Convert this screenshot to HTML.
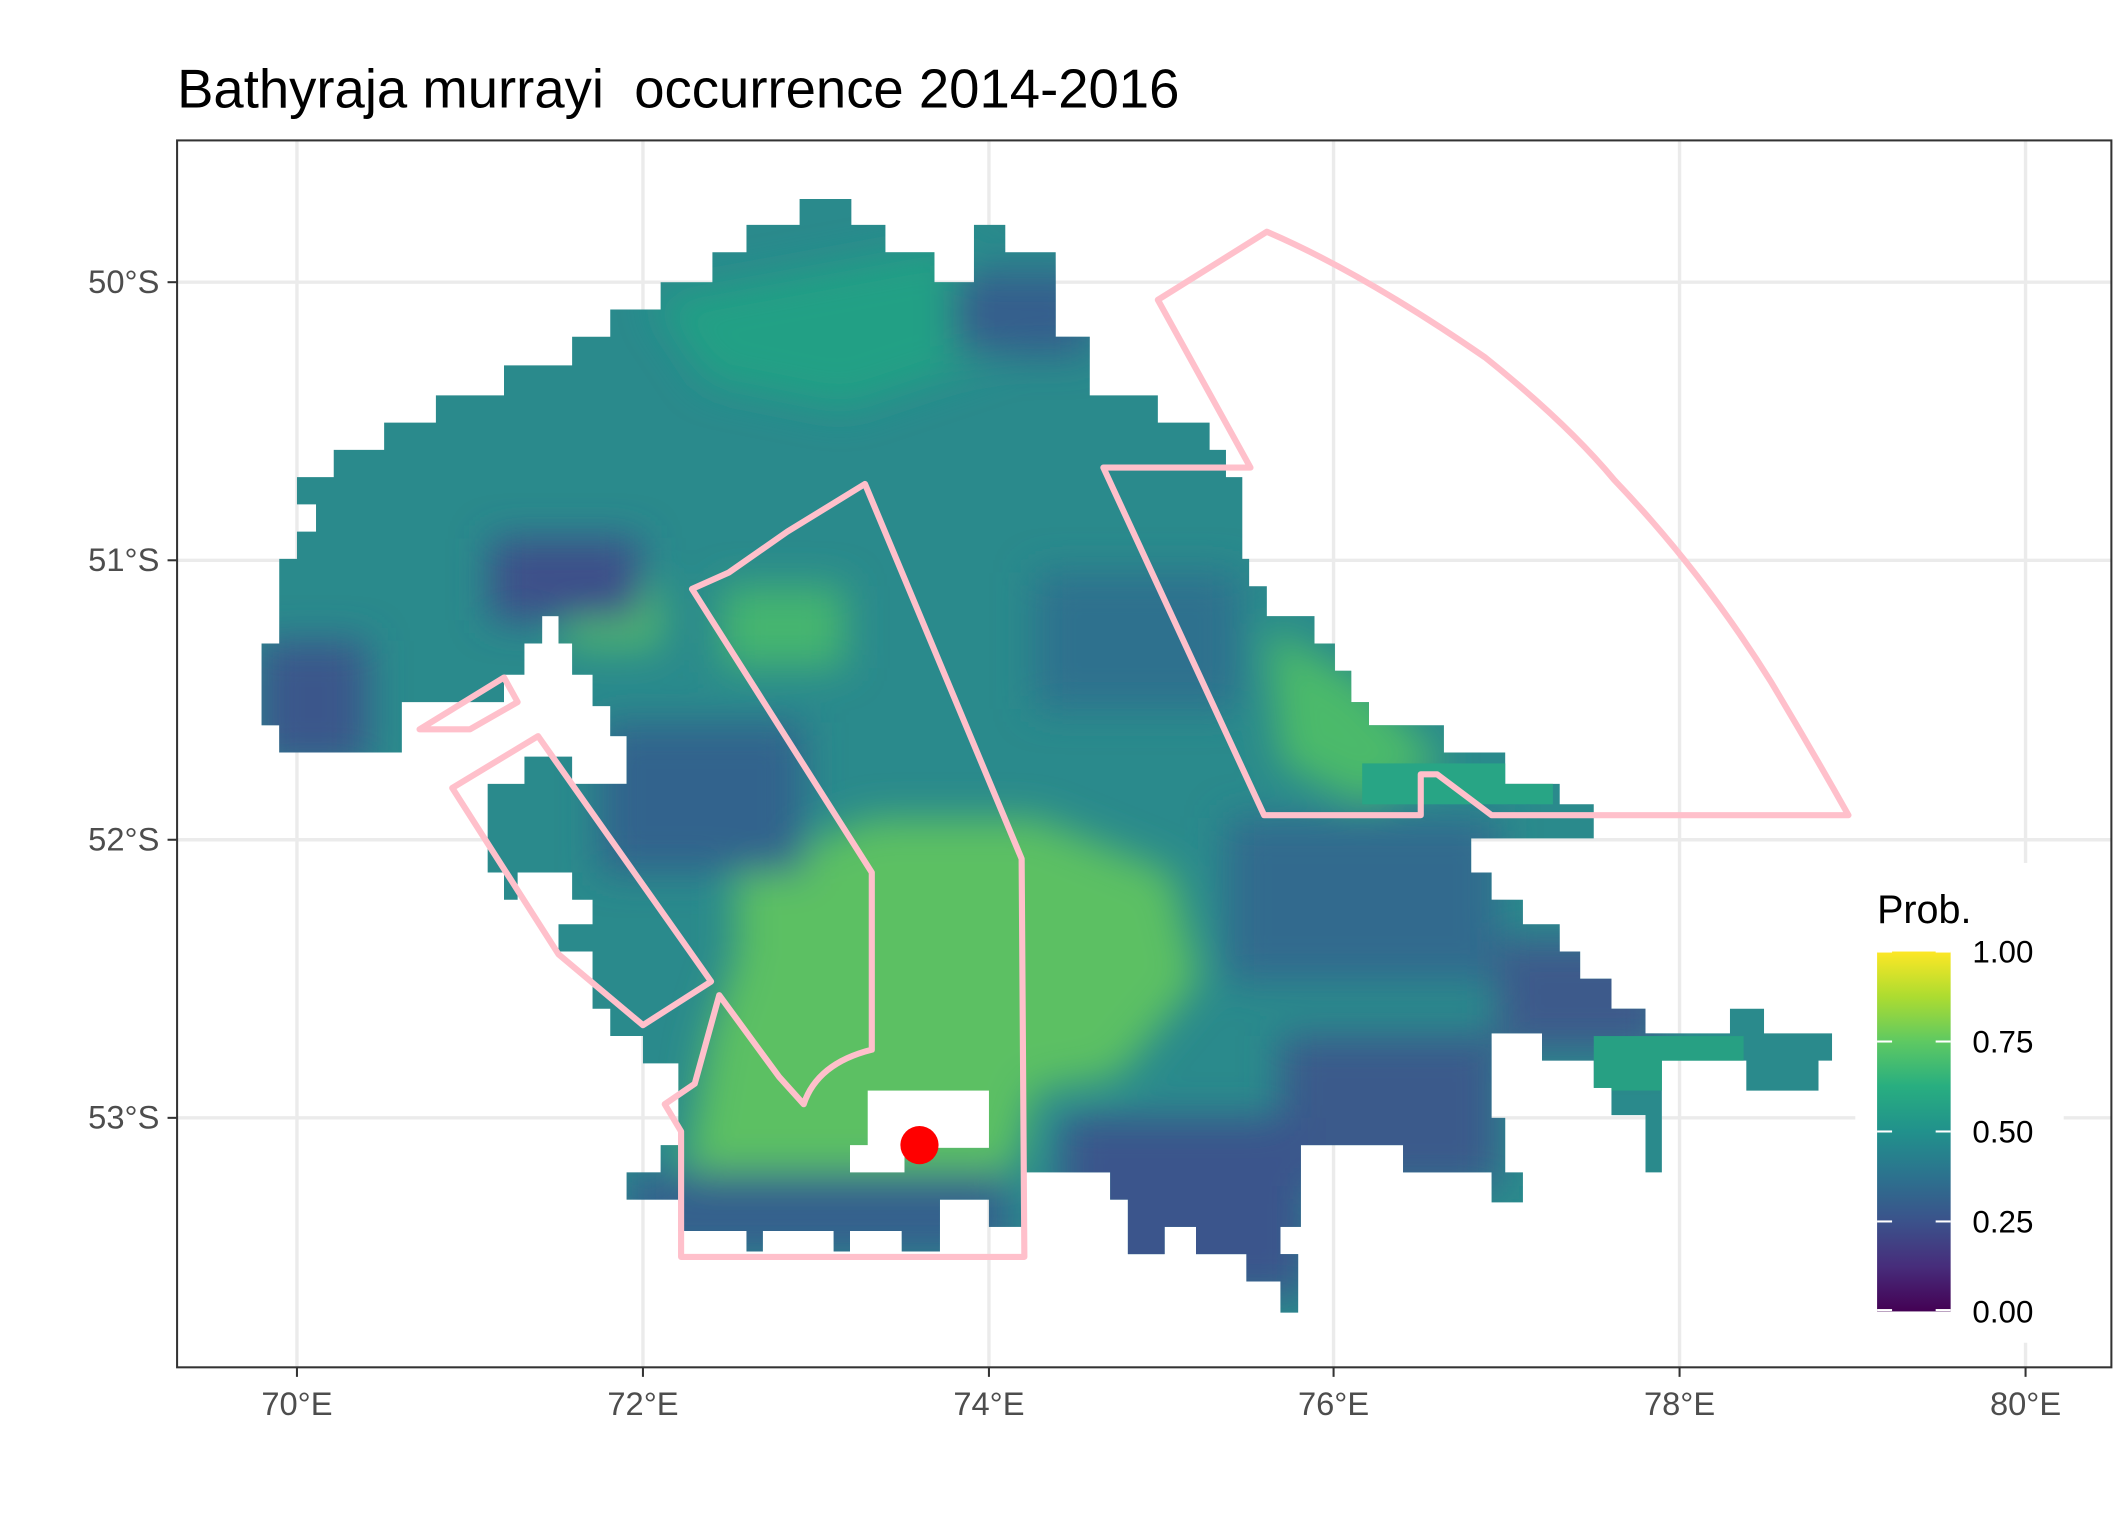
<!DOCTYPE html>
<html><head><meta charset="utf-8"><style>html,body{margin:0;padding:0;background:#fff}svg{display:block}</style></head>
<body>
<svg width="2125" height="1535" viewBox="0 0 1560 1126" preserveAspectRatio="none" xmlns="http://www.w3.org/2000/svg" font-family="Liberation Sans, sans-serif">
<defs>
<linearGradient id="vir" x1="0" y1="1" x2="0" y2="0">
<stop offset="0" stop-color="#440154"/><stop offset="0.125" stop-color="#472d7b"/><stop offset="0.25" stop-color="#3b528b"/><stop offset="0.375" stop-color="#2c728e"/><stop offset="0.5" stop-color="#21918c"/><stop offset="0.625" stop-color="#28ae80"/><stop offset="0.75" stop-color="#5ec962"/><stop offset="0.875" stop-color="#addc30"/><stop offset="1" stop-color="#fde725"/>
</linearGradient>
<clipPath id="land"><path id="shape" d="M548,165 L587,165 L587,146 L625,146 L625,165 L650,165 L650,185 L686,185 L686,207 L715,207 L715,165 L738,165 L738,185 L775,185 L775,247 L800,247 L800,290 L850,290 L850,310 L888,310 L888,330 L900,330 L900,350 L912,350 L912,410 L917,410 L917,430 L930,430 L930,452 L965,452 L965,472 L980,472 L980,492 L992,492 L992,515 L1005,515 L1005,532 L1060,532 L1060,552 L1105,552 L1105,575 L1145,575 L1145,590 L1170,590 L1170,615 L1080,615 L1080,640 L1095,640 L1095,660 L1118,660 L1118,678 L1145,678 L1145,698 L1160,698 L1160,718 L1183,718 L1183,740 L1208,740 L1208,758 L1270,758 L1270,740 L1295,740 L1295,758 L1345,758 L1345,778 L1335,778 L1335,800 L1282,800 L1282,778 L1220,778 L1220,860 L1208,860 L1208,818 L1183,818 L1183,798 L1170,798 L1170,778 L1132,778 L1132,758 L1095,758 L1095,820 L1105,820 L1105,860 L1118,860 L1118,882 L1095,882 L1095,860 L1030,860 L1030,840 L955,840 L955,900 L940,900 L940,920 L953,920 L953,963 L940,963 L940,940 L915,940 L915,920 L878,920 L878,900 L855,900 L855,920 L828,920 L828,880 L815,880 L815,860 L750,860 L750,900 L726,900 L726,880 L690,880 L690,918 L662,918 L662,903 L624,903 L624,918 L612,918 L612,903 L560,903 L560,918 L548,918 L548,903 L498,903 L498,880 L460,880 L460,860 L485,860 L485,840 L498,840 L498,780 L472,780 L472,760 L448,760 L448,740 L435,740 L435,698 L410,698 L410,678 L435,678 L435,660 L420,660 L420,640 L380,640 L380,660 L370,660 L370,640 L358,640 L358,575 L385,575 L385,555 L420,555 L420,575 L460,575 L460,540 L448,540 L448,518 L435,518 L435,495 L420,495 L420,472 L410,472 L410,452 L398,452 L398,472 L385,472 L385,495 L370,495 L370,515 L295,515 L295,552 L205,552 L205,532 L192,532 L192,472 L205,472 L205,410 L218,410 L218,390 L232,390 L232,370 L218,370 L218,350 L245,350 L245,330 L282,330 L282,310 L320,310 L320,290 L370,290 L370,268 L420,268 L420,247 L448,247 L448,227 L485,227 L485,207 L523,207 L523,185 L548,185 Z"/></clipPath>
<filter id="bl"><feGaussianBlur stdDeviation="14"/></filter>
</defs>
<rect width="1560" height="1126" fill="#fff"/>
<g stroke="#ebebeb" stroke-width="2.5">
<line x1="218" y1="103" x2="218" y2="1003"/><line x1="472" y1="103" x2="472" y2="1003"/><line x1="726" y1="103" x2="726" y2="1003"/><line x1="979" y1="103" x2="979" y2="1003"/><line x1="1233" y1="103" x2="1233" y2="1003"/><line x1="1487" y1="103" x2="1487" y2="1003"/>
<line x1="130" y1="207" x2="1550" y2="207"/><line x1="130" y1="411" x2="1550" y2="411"/><line x1="130" y1="616" x2="1550" y2="616"/><line x1="130" y1="820" x2="1550" y2="820"/>
</g>
<g clip-path="url(#land)">
<rect x="180" y="140" width="1180" height="830" fill="#2a8a8c"/>
<g filter="url(#bl)">
<path d="M480,220 L700,180 L740,260 L620,300 L520,280 Z" fill="#23a085"/>
<path d="M540,640 L640,600 L760,600 L860,640 L880,720 L820,790 L760,800 L740,870 L500,880 L520,760 L540,700 Z" fill="#5cc063"/>
<rect x="415" y="430" width="70" height="45" fill="#52bd69"/>
<rect x="530" y="430" width="90" height="60" fill="#45b570"/>
<path d="M930,460 L1000,500 L1060,560 L1000,590 L940,560 Z" fill="#4cba6a"/>
<rect x="940" y="760" width="160" height="110" fill="#3b5a8b"/>
<rect x="1100" y="690" width="120" height="80" fill="#3c5a8b"/>
<rect x="360" y="395" width="110" height="60" fill="#3d4f8a"/>
<rect x="440" y="530" width="150" height="110" fill="#33638d"/>
<rect x="700" y="200" width="100" height="60" fill="#355f8d"/>
<rect x="780" y="820" width="180" height="130" fill="#3a548c"/>
<rect x="460" y="860" width="280" height="60" fill="#35608d"/>
<rect x="190" y="470" width="80" height="90" fill="#3a568b"/>
<rect x="900" y="600" width="200" height="120" fill="#306a8e"/>
<rect x="760" y="420" width="150" height="100" fill="#2d718e"/>
</g>
<rect x="1170" y="760" width="110" height="40" fill="#27a083"/>
<rect x="1000" y="560" width="140" height="30" fill="#28a585"/>
</g>
<rect x="637" y="800" width="89" height="42" fill="#fff"/>
<rect x="624" y="840" width="40" height="20" fill="#fff"/>
<circle cx="675" cy="840" r="14" fill="#ff0000"/>
<g fill="none" stroke="#ffc0cb" stroke-width="4.5" stroke-linejoin="round">
<path d="M850,220 L930,170 Q1000,200 1090,262 Q1150,310 1185,352 Q1250,420 1300,500 Q1330,550 1357,598 L1095,598 L1055,568 L1043,568 L1043,598 L928,598 L810,343 L918,343 Z"/>
<path d="M635,355 L750,630 L752,922 L500,922 L500,830 L488,810 L510,795 L528,730 L572,790 L590,810 Q600,780 640,770 L640,640 L508,432 L535,420 L578,390 Z"/>
<path d="M308,535 L370,497 L380,515 L345,535 Z"/>
<path d="M332,578 L395,540 L522,720 L472,752 L410,700 Z"/>
</g>
<rect x="130" y="103" width="1420" height="900" fill="none" stroke="#333" stroke-width="1.5"/>
<rect x="1362" y="633" width="153" height="352" fill="#fff"/>
<text x="1378" y="677" font-size="29" fill="#000">Prob.</text>
<rect x="1378" y="698" width="54" height="264" fill="url(#vir)"/>
<g stroke="#fff" stroke-width="1.5">
<line x1="1378" y1="698" x2="1389" y2="698"/><line x1="1421" y1="698" x2="1432" y2="698"/>
<line x1="1378" y1="764" x2="1389" y2="764"/><line x1="1421" y1="764" x2="1432" y2="764"/>
<line x1="1378" y1="830" x2="1389" y2="830"/><line x1="1421" y1="830" x2="1432" y2="830"/>
<line x1="1378" y1="896" x2="1389" y2="896"/><line x1="1421" y1="896" x2="1432" y2="896"/>
<line x1="1378" y1="961" x2="1389" y2="961"/><line x1="1421" y1="961" x2="1432" y2="961"/>
</g>
<g font-size="23" fill="#000">
<text x="1448" y="706">1.00</text><text x="1448" y="772">0.75</text><text x="1448" y="838">0.50</text><text x="1448" y="904">0.25</text><text x="1448" y="970">0.00</text>
</g>
<g stroke="#333" stroke-width="1.5">
<line x1="123" y1="207" x2="130" y2="207"/><line x1="123" y1="411" x2="130" y2="411"/><line x1="123" y1="616" x2="130" y2="616"/><line x1="123" y1="820" x2="130" y2="820"/>
<line x1="218" y1="1003" x2="218" y2="1010"/><line x1="472" y1="1003" x2="472" y2="1010"/><line x1="726" y1="1003" x2="726" y2="1010"/><line x1="979" y1="1003" x2="979" y2="1010"/><line x1="1233" y1="1003" x2="1233" y2="1010"/><line x1="1487" y1="1003" x2="1487" y2="1010"/>
</g>
<g font-size="24" fill="#4d4d4d" text-anchor="end">
<text x="117" y="215">50°S</text><text x="117" y="419">51°S</text><text x="117" y="624">52°S</text><text x="117" y="828">53°S</text>
</g>
<g font-size="24" fill="#4d4d4d" text-anchor="middle">
<text x="218" y="1038">70°E</text><text x="472" y="1038">72°E</text><text x="726" y="1038">74°E</text><text x="979" y="1038">76°E</text><text x="1233" y="1038">78°E</text><text x="1487" y="1038">80°E</text>
</g>
<text x="130" y="79" font-size="40" fill="#000">Bathyraja murrayi&#160; occurrence 2014-2016</text>
</svg>
</body></html>
